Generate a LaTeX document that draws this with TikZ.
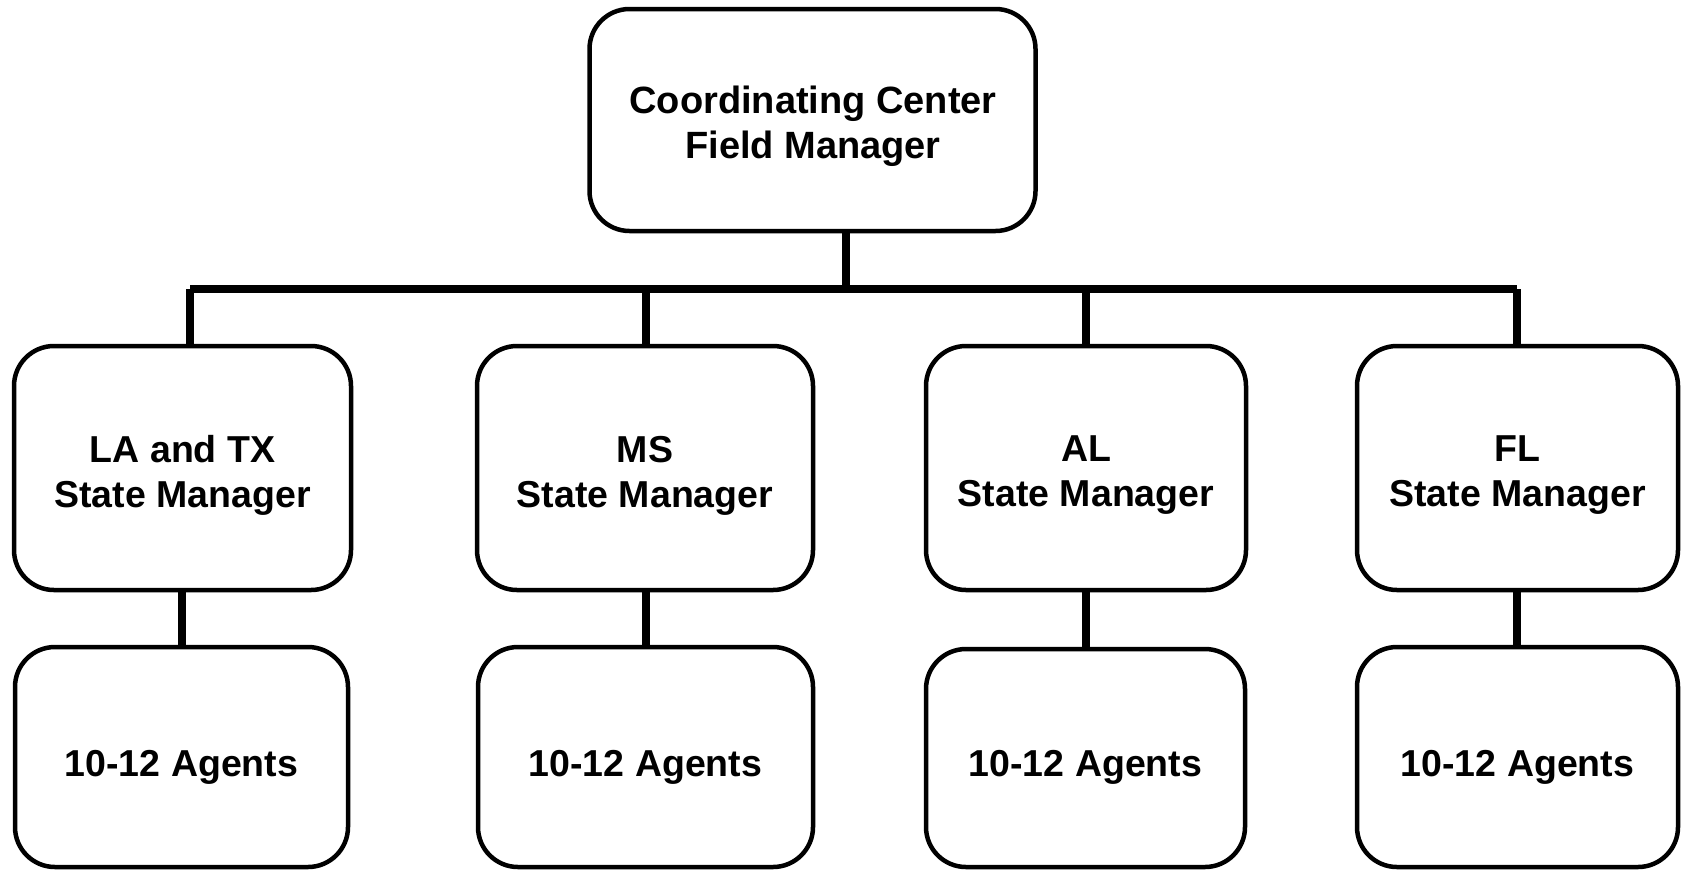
\documentclass[tikz,border=0pt]{standalone}
\usepackage{fontspec}
\setmainfont{Liberation Sans}
\begin{document}
\begin{tikzpicture}[x=1pt,y=-1pt,
  box/.style={draw=black, line width=4.5pt, rounded corners=40pt, inner sep=0pt, fill=white},
  lbl/.style={font=\bfseries\fontsize{37.5}{45}\selectfont, align=center, inner sep=0pt, text=black},
  toplbl/.style={font=\bfseries\fontsize{38}{45}\selectfont, align=center, inner sep=0pt, text=black},
  conn/.style={draw=black, line width=7.5pt, line cap=butt}]
\useasboundingbox (0,0) rectangle (1685,871);

% top box
\node[box, minimum width=446pt, minimum height=222pt] (top) at (812.5,120) {};
\node[toplbl] (toptxt) at (813,126.5) {Coordinating Center\\Field Manager};

% state manager boxes
\node[box, minimum width=337pt, minimum height=244pt] (s1) at (182.5,468) {};
\node[box, minimum width=336pt, minimum height=244pt] (s2) at (645,468) {};
\node[box, minimum width=320pt, minimum height=244pt] (s3) at (1086,468) {};
\node[box, minimum width=321pt, minimum height=244pt] (s4) at (1517.5,468) {};
\node[lbl] (s1t) at (182.5,475.5) {LA and TX\\State Manager};
\node[lbl] (s2t) at (645,475.5) {MS\\State Manager};
\node[lbl] (s3t) at (1086,475.5) {AL\\State Manager};
\node[lbl] (s4t) at (1517.5,475.5) {FL\\State Manager};

% agent boxes
\node[box, minimum width=333pt, minimum height=220pt] (a1) at (181.5,757) {};
\node[box, minimum width=335pt, minimum height=220pt] (a2) at (645.5,757) {};
\node[box, minimum width=319pt, minimum height=218pt] (a3) at (1085.5,758) {};
\node[box, minimum width=321pt, minimum height=220pt] (a4) at (1517.5,757) {};
\node[lbl] (a1t) at (181.5,767.5) {10-12 Agents};
\node[lbl] (a2t) at (645.5,767.5) {10-12 Agents};
\node[lbl] (a3t) at (1085.5,767.5) {10-12 Agents};
\node[lbl] (a4t) at (1517.5,767.5) {10-12 Agents};

% bus
\coordinate (bt) at (846,289);
\coordinate (b1) at (190,289);
\coordinate (b2) at (646,289);
\coordinate (b3) at (1086,289);
\coordinate (b4) at (1517,289);

\draw[conn] (top.south -| bt) -- (bt);
\draw[conn] (b1) -- (b4);
\draw[conn] (b1) -- (b1 |- s1.north);
\draw[conn] (b2) -- (b2 |- s2.north);
\draw[conn] (b3) -- (b3 |- s3.north);
\draw[conn] (b4) -- (b4 |- s4.north);

\draw[conn] (a1.north -| 182,0) -- (s1.south -| 182,0);
\draw[conn] (s2.south -| b2) -- (a2.north -| b2);
\draw[conn] (s3.south -| b3) -- (a3.north -| b3);
\draw[conn] (s4.south -| b4) -- (a4.north -| b4);
\end{tikzpicture}
\end{document}
